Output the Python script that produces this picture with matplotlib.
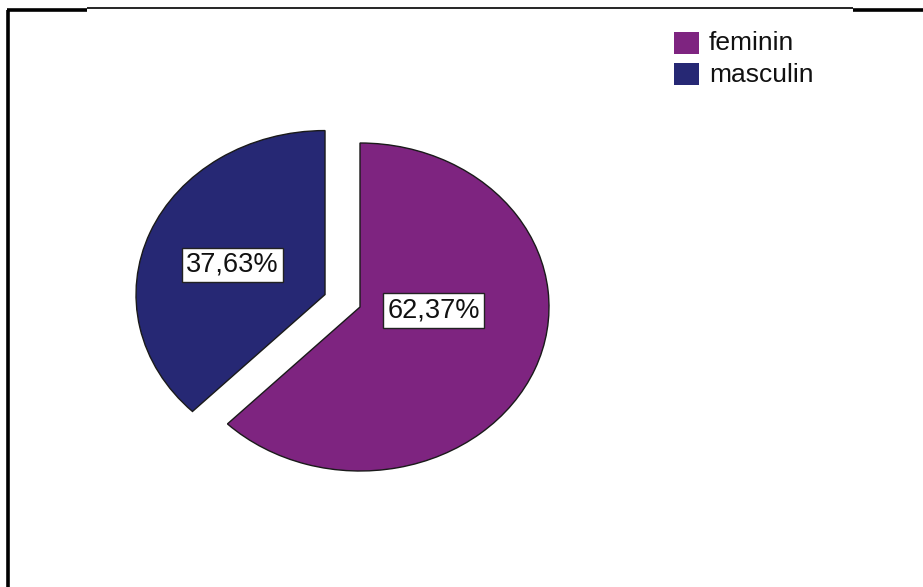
import matplotlib.pyplot as plt
from matplotlib.patches import Rectangle

plt.rcParams['font.family'] = ['Liberation Sans', 'DejaVu Sans']

# Gender split of the sample
labels = ['feminin', 'masculin']
shares = [62.37, 37.63]
colors = ['#7e2480', '#262874']
explode = [0, 0.2]

W, H = 923, 587
fig = plt.figure(figsize=(W / 100, H / 100), dpi=100)

# page overlay in pixel units for the frame and the legend
page = fig.add_axes([0, 0, 1, 1])
page.set_xlim(0, W)
page.set_ylim(H, 0)
page.axis('off')

# frame: thick left edge, broken top edge
page.plot([8, 8], [10, H], color='black', lw=2.6, solid_capstyle='butt')
page.plot([6.7, 87], [9.5, 9.5], color='black', lw=2.6, solid_capstyle='butt')
page.plot([87, 853], [8, 8], color='black', lw=1.2, solid_capstyle='butt')
page.plot([853, W], [9.5, 9.5], color='black', lw=2.6, solid_capstyle='butt')

# pie on its own axes, stretched a bit so it comes out oval
cx, cy, rx, ry = 360, 307, 189, 164
lim = 1.5
ax = fig.add_axes([(cx - lim * rx) / W, (H - cy - lim * ry) / H,
                   2 * lim * rx / W, 2 * lim * ry / H])
wedges, texts, autotexts = ax.pie(
    shares, colors=colors, explode=explode, startangle=90, counterclock=False,
    autopct=lambda p: f'{p:.2f}%'.replace('.', ','), pctdistance=0.53,
    wedgeprops=dict(edgecolor='#1a1a1a', linewidth=1.0),
    textprops=dict(fontsize=19.5, color='#111111'))
ax.set_aspect('auto')
ax.set_xlim(-lim, lim)
ax.set_ylim(-lim, lim)
ax.axis('off')

autotexts[0].set_position((0.39, -0.02))
autotexts[1].set_position((autotexts[1].get_position()[0],
                           autotexts[1].get_position()[1] - 0.02))
for t in autotexts:
    t.set_bbox(dict(facecolor='white', edgecolor='#222222', linewidth=1.0,
                    boxstyle='square,pad=0.16'))

# legend drawn by hand
for i, (lab, col) in enumerate(zip(labels, colors)):
    y0 = 32 + i * 31
    page.add_patch(Rectangle((674, y0), 25, 22, facecolor=col, edgecolor='none'))
    page.text(709, y0 + 11.5, lab, fontsize=19, va='center', ha='left', color='#111111')

fig.savefig('out.png', dpi=100)
